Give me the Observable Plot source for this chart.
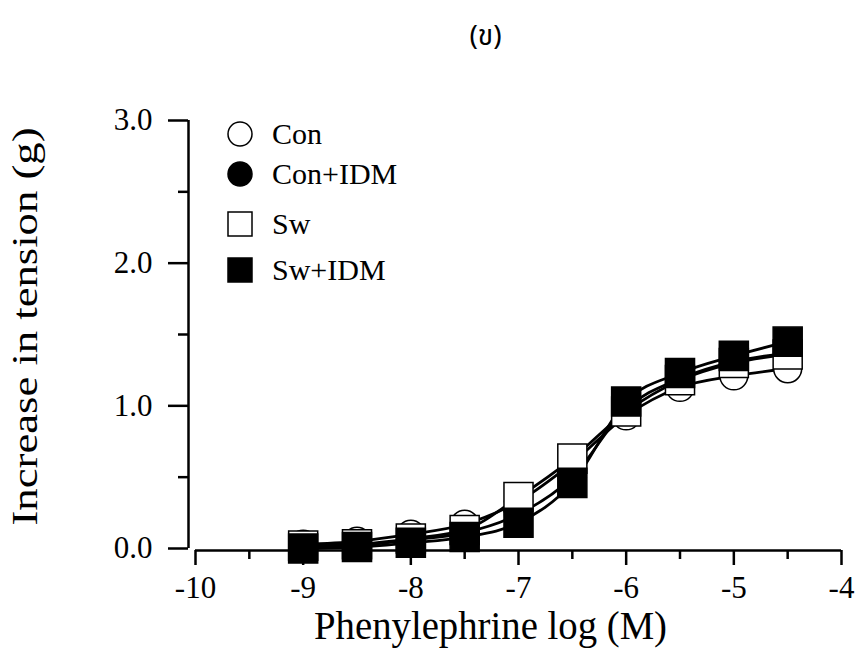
<!DOCTYPE html>
<html><head><meta charset="utf-8">
<script src="https://cdn.jsdelivr.net/npm/d3@7"></script>
<script src="https://cdn.jsdelivr.net/npm/@observablehq/plot@0.6"></script>
<style>
body{margin:0;background:#fff;}
#wrap{position:relative;width:858px;height:661px;overflow:hidden;}
.item{position:absolute;left:227px;height:26px;font-family:"Liberation Serif","Times New Roman",serif;font-size:30px;line-height:26px;color:#000;white-space:nowrap;}
.item svg{position:absolute;left:0;top:0;}
.item span{position:absolute;left:45px;top:0;}
</style></head>
<body><div id="wrap"></div>
<script>
// ---- data ----
const doses = [-9, -8.5, -8, -7.5, -7, -6.5, -6, -5.5, -5, -4.5];
const seriesNames = ["Con", "Con+IDM", "Sw", "Sw+IDM"];
const conValues    = [0.03, 0.05, 0.10, 0.17, 0.33, 0.60, 0.93, 1.13, 1.21, 1.26];
const conIdmValues = [0.01, 0.02, 0.06, 0.11, 0.24, 0.50, 0.98, 1.19, 1.31, 1.37];
const swValues     = [0.02, 0.03, 0.07, 0.13, 0.36, 0.63, 0.96, 1.18, 1.30, 1.36];
const swIdmValues  = [0.00, 0.01, 0.04, 0.08, 0.18, 0.46, 1.03, 1.23, 1.35, 1.45];
const conSem    = [0.02, 0.03, 0.05, 0.06, 0.05, 0.05, 0.05, 0.04, 0.05, 0.05];
const conIdmSem = [0.02, 0.02, 0.04, 0.05, 0.04, 0.05, 0.05, 0.05, 0.05, 0.05];
const swSem     = [0.02, 0.02, 0.03, 0.04, 0.04, 0.05, 0.04, 0.05, 0.05, 0.05];
const swIdmSem  = [0.01, 0.01, 0.02, 0.03, 0.03, 0.04, 0.05, 0.04, 0.04, 0.04];
const xMajorTicks = [-10, -9, -8, -7, -6, -5, -4];
const xMinorTicks = [-9.5, -8.5, -7.5, -6.5, -5.5, -4.5];
const yMajorTicks = [0, 1, 2, 3];
const yMinorTicks = [0.5, 1.5, 2.5];
const titleText = "(ข)";
const xTitle = "Phenylephrine log (M)";
const yTitle = "Increase in tension (g)";

// ---- table ----
const valueArrays = [conValues, conIdmValues, swValues, swIdmValues];
const semArrays = [conSem, conIdmSem, swSem, swIdmSem];
const rows = [];
seriesNames.forEach((s, i) => doses.forEach((d, j) => rows.push({series: s, dose: d, value: valueArrays[i][j], sem: semArrays[i][j]})));

const styles = {
  "Con":     {symbol: "circle", r: 14, fill: "white"},
  "Con+IDM": {symbol: "circle", r: 14, fill: "black"},
  "Sw":      {symbol: "square", r: 16.4, fill: "white"},
  "Sw+IDM":  {symbol: "square", r: 16.4, fill: "black"}
};
const cap = {draw(ctx, size) { const w = Math.sqrt(size) / 2; ctx.moveTo(-w, 0); ctx.lineTo(w, 0); }};
const serif = "Liberation Serif, Times New Roman, serif";

const plot = Plot.plot({
  width: 858, height: 661,
  marginLeft: 195, marginRight: 17, marginTop: 120, marginBottom: 113,
  style: {fontFamily: serif, background: "white", color: "black"},
  x: {domain: [-10, -4], axis: null},
  y: {domain: [0, 3], axis: null},
  marks: [
    Plot.ruleX([-10], {y1: 0, y2: 3, dx: -7, stroke: "black", strokeWidth: 2.5}),
    Plot.ruleY([0], {x1: -10, x2: -4, dy: 2, stroke: "black", strokeWidth: 2.5}),
    Plot.axisY(yMajorTicks, {anchor: "left", tickSize: 20, tickPadding: 16, dx: -7, strokeWidth: 2.5, tickFormat: d => d.toFixed(1), fontSize: 31, label: null}),
    Plot.axisY(yMinorTicks, {anchor: "left", tickSize: 10, dx: -7, strokeWidth: 2.5, tickFormat: () => "", label: null}),
    Plot.axisX(xMajorTicks, {anchor: "bottom", tickSize: 15, tickPadding: 10, dy: 2, strokeWidth: 2.5, tickFormat: d => String(d), fontSize: 31, label: null}),
    Plot.axisX(xMinorTicks, {anchor: "bottom", tickSize: 9, dy: 2, strokeWidth: 2.5, tickFormat: () => "", label: null}),
    Plot.ruleX(rows, {x: "dose", y1: d => d.value - d.sem, y2: d => d.value + d.sem, stroke: "black", strokeWidth: 1.5}),
    Plot.dot(rows, {x: "dose", y: d => d.value - d.sem, symbol: cap, r: 5, stroke: "black", strokeWidth: 1.5}),
    Plot.dot(rows, {x: "dose", y: d => d.value + d.sem, symbol: cap, r: 5, stroke: "black", strokeWidth: 1.5}),
    Plot.line(rows, {x: "dose", y: "value", z: "series", curve: "monotone-x", stroke: "black", strokeWidth: 2.8}),
    ...seriesNames.map(s => Plot.dot(rows.filter(d => d.series === s), {
      x: "dose", y: "value", symbol: styles[s].symbol, r: styles[s].r,
      fill: styles[s].fill, stroke: "black", strokeWidth: 1.5
    })),
    Plot.text([xTitle], {frameAnchor: "bottom", dx: -28, dy: 90, fontSize: 40, fill: "black", className: "xtitle"}),
    Plot.text([yTitle], {frameAnchor: "bottom-left", rotate: -90, textAnchor: "start", dx: -159, dy: -23, fontSize: 36, fill: "black", className: "ytitle"}),
    Plot.text([titleText], {frameAnchor: "top", dx: -33, dy: -95, fontSize: 28, fill: "black", fontFamily: "Noto Sans Thai, Loma, Garuda, Tlwg Typo, DejaVu Sans, serif"})
  ]
});
const wrap = document.getElementById("wrap");
wrap.appendChild(plot);
d3.select(plot).selectAll(".xtitle text").attr("textLength", 353).attr("lengthAdjust", "spacingAndGlyphs");
d3.select(plot).selectAll(".ytitle text").attr("textLength", 398).attr("lengthAdjust", "spacingAndGlyphs");

// ---- legend (HTML overlay) ----
const legendTops = {"Con": 121, "Con+IDM": 161, "Sw": 211, "Sw+IDM": 257};
seriesNames.forEach(s => {
  const div = document.createElement("div");
  div.className = "item";
  div.style.top = legendTops[s] + "px";
  const st = styles[s];
  const shape = st.symbol === "circle"
    ? `<circle cx="13" cy="13" r="12" fill="${st.fill}" stroke="black" stroke-width="1.5"/>`
    : `<rect x="1" y="1" width="24" height="24" fill="${st.fill}" stroke="black" stroke-width="1.5"/>`;
  div.innerHTML = `<svg width="26" height="26">${shape}</svg><span>${s}</span>`;
  wrap.appendChild(div);
});
</script>
</body></html>
